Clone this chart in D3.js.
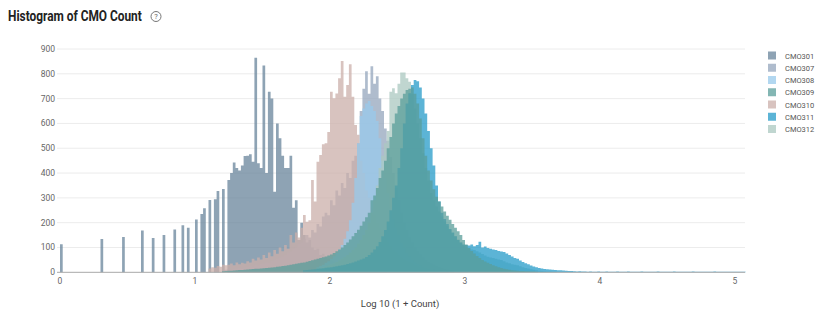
<!DOCTYPE html>
<html>
<head>
<meta charset="utf-8">
<script src="https://cdn.jsdelivr.net/npm/d3@7"></script>
<style>
body { margin: 0; background: #fff; }
text { font-family: Roboto, "DejaVu Sans", sans-serif; }
</style>
</head>
<body>
<script>
//histogram bins are 0.02 wide on the log10(1 + count) axis
var binWidth = 0.02;

var seriesNames = ["CMO301", "CMO307", "CMO308", "CMO309", "CMO310", "CMO311", "CMO312"];
var seriesColors = ["#68849b", "#94a6bc", "#98caeb", "#5a9e9a", "#cbafaa", "#269bc8", "#abc8c0"];

//each series: first bin index, then the bar heights
var start301 = 0;
var cmo301 = [113, 0,0,0,0,0,0,0,0,0,0,0,0,0,0, 134, 0,0,0,0,0,0,0, 142, 0,0,0,0,0,0, 168, 0,0,0, 138, 0,0,0, 150, 0,0,0, 173, 0,0, 190, 0, 180, 0,0,
  213, 0, 235, 258, 0, 291, 0, 294, 328, 0, 336, 0,
  372, 400, 443, 420, 410, 430, 469, 470, 476, 446, 865, 440, 420, 833, 400, 728, 700, 325, 600, 540, 470, 420, 420, 470, 260, 290, 130, 200,
  150, 120, 130, 100, 90, 95, 70, 75, 60, 55, 50, 45, 40, 40, 35, 30, 25, 25, 20, 18, 15, 12, 12, 10, 8, 6, 5, 4, 3, 2, 2];

var start307 = 60;
var cmo307 = [8, 10, 12, 10, 14, 15, 18, 16, 20, 22,
  25, 24, 30, 28, 34, 36, 40, 38, 46, 50,
  55, 60, 65, 70, 80, 85, 95, 100, 115, 120,
  135, 150, 140, 170, 160, 195, 185, 225, 240, 230,
  290, 270, 330, 310, 360, 340, 400, 380, 450, 470,
  520, 650, 740, 810, 720, 830, 760, 790, 700, 650,
  580, 530, 465, 400, 340, 290, 240, 200, 170, 140,
  120, 100, 85, 72, 60, 50, 42, 35, 30, 25,
  20, 16, 13, 10, 8, 6, 5, 4, 3, 2, 2];

var start308 = 95;
var cmo308 = [20, 25, 30, 38, 45,
  55, 65, 78, 92, 110, 135, 165, 210, 280, 380,
  520, 630, 660, 680, 690, 670, 650, 610, 540, 450,
  380, 320, 260, 215, 180, 150, 120, 100, 80, 65,
  52, 42, 34, 28, 22, 18, 14, 11, 9, 7,
  5, 4, 3, 2];

var start309 = 60;
var cmo309 = [4, 5, 6, 6, 7, 8, 9, 9, 10, 11,
  12, 13, 14, 14, 15, 16, 17, 18, 19, 20,
  22, 23, 25, 26, 28, 30, 32, 34, 36, 38,
  40, 43, 46, 49, 52, 55, 58, 61, 64, 68,
  72, 78, 85, 92, 100, 110, 120, 132, 145, 158,
  172, 188, 205, 222, 240, 290, 310, 340, 380, 410,
  450, 500, 545, 600, 640, 670, 700, 720, 735, 740,
  745, 720, 680, 620, 540, 470, 410, 370, 335, 305,
  285, 265, 245, 228, 212, 195, 180, 165, 150, 130,
  112, 98, 86, 76, 66, 58, 50, 44, 38, 33,
  28, 24, 20, 17, 14, 12, 10, 8, 7, 6,
  5, 5, 4, 4, 3, 3, 2];

var start310 = 55;
var cmo310 = [15, 20, 18, 25, 22, 30, 28, 30, 35, 28,
  40, 32, 38, 35, 45, 40, 55, 48, 60, 52,
  70, 58, 80, 65, 90, 75, 100, 85, 110, 95,
  150, 120, 160, 140, 180,
  231, 204, 210, 372, 285, 446, 473, 516, 520, 565,
  728, 701, 721, 782, 852, 708, 755, 839, 708, 594,
  554, 450, 400, 330, 300, 260, 230, 200, 180, 160,
  140, 120, 105, 90, 80, 70, 60, 52, 45, 40,
  35, 30, 26, 22, 19, 16, 14, 12, 10, 8,
  7, 6, 5, 4, 3, 2];

var start311 = 90;
var cmo311 = [8, 9, 10, 11, 12, 14, 15, 16, 18, 19,
  20, 22, 24, 26, 28, 30, 33, 36, 40, 44,
  48, 52, 56, 62, 70, 80, 92, 105, 122, 145,
  170, 205, 250, 300, 350, 420, 500, 600, 680, 722,
  755, 775, 770, 745, 700, 640, 570, 500, 430, 350,
  285, 240, 215, 195, 175, 160, 145, 130, 120, 112,
  110, 108, 112, 105, 110, 123, 100, 104, 98, 95,
  92, 90, 86, 84, 82, 76, 70, 64, 58, 55,
  48, 42, 36, 32, 27, 23, 20, 17, 15, 13,
  12, 11, 10, 9, 8, 8, 7, 6, 5, 5,
  4, 3, 4, 3, 3, 2, 3, 2, 2, 3,
  2, 2, 3, 2, 2, 2, 3, 2, 2, 2,
  3, 2, 2, 2, 2, 3, 2, 2, 2, 2,
  2, 3, 2, 2, 2, 2, 2, 3, 2, 2,
  2, 2, 2, 2, 3, 2, 2, 2, 2, 2,
  2, 2, 3, 2, 2, 2, 2, 2, 2, 2,
  2, 2, 2, 2];

var start312 = 95;
var cmo312 = [15, 18, 20, 24, 28,
  32, 36, 42, 48, 55, 62, 70, 80, 90, 100,
  115, 130, 150, 170, 200, 240, 290, 350, 420, 470,
  520, 570, 728, 742, 722, 760, 805, 805, 782, 768,
  720, 660, 600, 540, 480, 420, 370, 320, 290, 265,
  245, 225, 205, 188, 172, 158, 145, 132, 120, 108,
  100, 96, 92, 90, 85, 80, 74, 68, 63, 60,
  58, 55, 52, 50, 45, 40, 36, 32, 30, 28,
  24, 20, 17, 15, 12, 10, 8, 6, 5, 4,
  3, 3, 2, 2];

var yTicks = [0, 100, 200, 300, 400, 500, 600, 700, 800, 900];
var xTicks = [0, 1, 2, 3, 4, 5];

//drawing order: later series sit on top
var drawOrder = [
  {name: "CMO301", start: start301, values: cmo301},
  {name: "CMO307", start: start307, values: cmo307},
  {name: "CMO310", start: start310, values: cmo310},
  {name: "CMO308", start: start308, values: cmo308},
  {name: "CMO312", start: start312, values: cmo312},
  {name: "CMO311", start: start311, values: cmo311},
  {name: "CMO309", start: start309, values: cmo309}
];

var width = 825,
    height = 311;

var svg = d3.select("body")
    .append("svg")
    .attr("width", width)
    .attr("height", height);

var x = d3.scaleLinear()
    .domain([0, 5])
    .range([60, 735]);

var y = d3.scaleLinear()
    .domain([0, 900])
    .range([272.3, 49]);

var color = d3.scaleOrdinal()
    .domain(seriesNames)
    .range(seriesColors);

//title, squeezed to the reference width
var title = svg.append("text")
    .attr("x", 0)
    .attr("y", 0)
    .style("font-size", "15px")
    .style("font-weight", "700")
    .style("fill", "#222")
    .text("Histogram of CMO Count");
var titleLen = title.node().getComputedTextLength();
title.attr("transform", "translate(8,21) scale(" + (134 / titleLen) + ",1)");

//help icon
svg.append("circle")
    .attr("cx", 156)
    .attr("cy", 16.5)
    .attr("r", 5)
    .style("fill", "none")
    .style("stroke", "#777")
    .style("stroke-width", 1);

svg.append("text")
    .attr("x", 156)
    .attr("y", 19.3)
    .attr("text-anchor", "middle")
    .style("font-size", "7.5px")
    .style("fill", "#666")
    .text("?");

//gridlines
svg.selectAll(".grid")
    .data(yTicks.slice(1))
    .enter()
    .append("line")
    .attr("class", "grid")
    .attr("x1", 57)
    .attr("x2", 745)
    .attr("y1", function(d){ return y(d); })
    .attr("y2", function(d){ return y(d); })
    .style("stroke", "#ececec")
    .style("stroke-width", 1);

//histograms as stepped areas
var area = d3.area()
    .curve(d3.curveStepAfter)
    .x(function(d){ return x(d[0]); })
    .y0(y(0))
    .y1(function(d){ return y(d[1]); });

drawOrder.forEach(function(s){
    var pts = s.values.map(function(v, i){
        return [(s.start + i) * binWidth, v];
    });
    pts.push([(s.start + s.values.length) * binWidth, 0]);
    svg.append("path")
        .datum(pts)
        .attr("class", "hist " + s.name)
        .attr("d", area)
        .style("fill", color(s.name))
        .style("fill-opacity", 0.75);
});

//baseline
svg.append("line")
    .attr("x1", 57)
    .attr("x2", 745)
    .attr("y1", y(0))
    .attr("y2", y(0))
    .style("stroke", "#a8a8a8")
    .style("stroke-width", 1);

//y tick labels
svg.selectAll(".ylab")
    .data(yTicks)
    .enter()
    .append("text")
    .attr("class", "ylab")
    .attr("x", 55)
    .attr("y", function(d){ return y(d) + 3; })
    .attr("text-anchor", "end")
    .style("font-size", "8.5px")
    .style("fill", "#666")
    .text(function(d){ return d; });

//x tick labels
svg.selectAll(".xlab")
    .data(xTicks)
    .enter()
    .append("text")
    .attr("class", "xlab")
    .attr("x", function(d){ return x(d); })
    .attr("y", 284)
    .attr("text-anchor", "middle")
    .style("font-size", "8.5px")
    .style("fill", "#666")
    .text(function(d){ return d; });

svg.append("text")
    .attr("x", 400)
    .attr("y", 307)
    .attr("text-anchor", "middle")
    .style("font-size", "9.5px")
    .style("fill", "#444")
    .text("Log 10 (1 + Count)");

//legend
var legend = svg.selectAll(".legend")
    .data(seriesNames)
    .enter()
    .append("g")
    .attr("class", "legend")
    .attr("transform", function(d, i){ return "translate(768," + (55.5 + i * 12.25) + ")"; });

legend.append("rect")
    .attr("x", 0)
    .attr("y", -4)
    .attr("width", 8)
    .attr("height", 8)
    .style("fill", function(d){ return color(d); })
    .style("fill-opacity", 0.75);

legend.append("text")
    .attr("x", 17)
    .attr("y", 3)
    .style("font-size", "7.5px")
    .style("fill", "#555")
    .text(function(d){ return d; });
</script>
</body>
</html>
